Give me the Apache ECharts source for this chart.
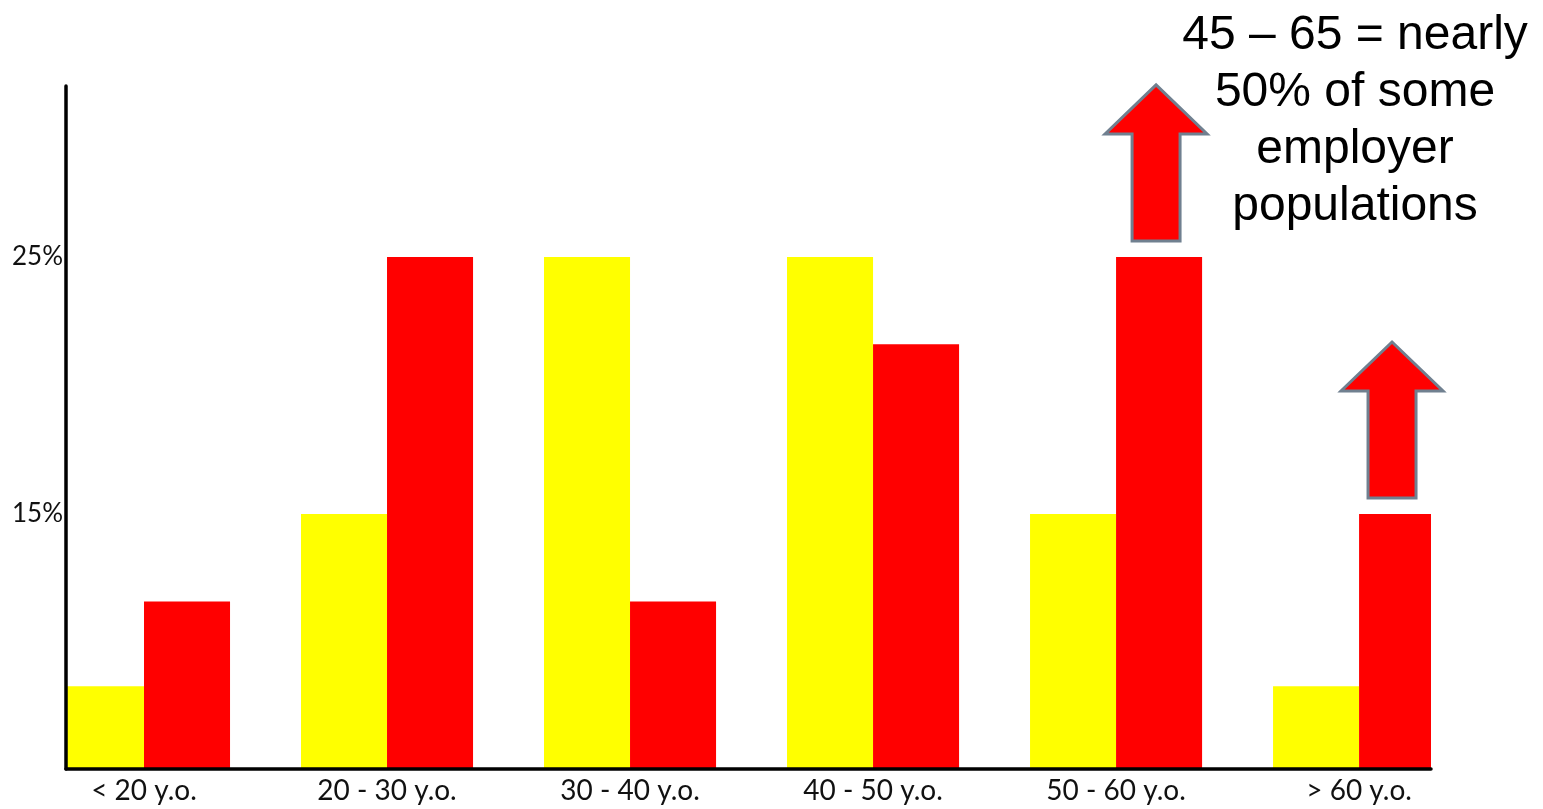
<!DOCTYPE html>
<html><head><meta charset="utf-8">
<script src="https://cdn.jsdelivr.net/npm/echarts@6/dist/echarts.min.js"></script>
<style>html,body{margin:0;padding:0;background:#fff}#c{width:1543px;height:809px}</style>
</head><body><div id="c"></div>
<script>
const categories = ['< 20 y.o.', '20 - 30 y.o.', '30 - 40 y.o.', '40 - 50 y.o.', '50 - 60 y.o.', '> 60 y.o.'];
const yellowValues = [8.3, 15, 25, 25, 15, 8.3];
const redValues = [11.6, 25, 11.6, 21.6, 25, 15];
const yTickLabels = [15, 25];
const arrowCategories = [4, 5];
const noteLines = ['45 – 65 = nearly', '50% of some', 'employer', 'populations'];

const chart = echarts.init(document.getElementById('c'), null, {renderer: 'canvas'});
const catIdx = categories.map((_, i) => i);
const GRID_LEFT = 66, GRID_RIGHT = 112;
const Y_MIN = 5.08, Y_MAX = 31.65;
const BAR_FRAC = (1 - 0.292) / 2; // each bar's share of one category band

function makeRenderItem(side) { // side: -1 left bar, 0 right bar
  return function (params, api) {
    const i = api.value(0), v = api.value(1);
    const top = api.coord([i, v]);
    const base = api.coord([i, Y_MIN]);
    const band = api.size([1, 0])[0];
    const w = band * BAR_FRAC;
    const x = top[0] + side * w;
    const shape = echarts.graphic.clipRectByRect(
      {x: x, y: top[1], width: w, height: base[1] - top[1]},
      {x: params.coordSys.x, y: params.coordSys.y, width: params.coordSys.width, height: params.coordSys.height});
    if (!shape) return null;
    return {type: 'rect', shape: shape, style: api.style()};
  };
}

const option = {
  animation: false,
  backgroundColor: '#fff',
  grid: {left: GRID_LEFT, right: GRID_RIGHT, top: 86, bottom: 40, containLabel: false, outerBoundsMode: 'none'},
  xAxis: {
    type: 'value', min: -0.321, max: 5.296, z: 10,
    axisLine: {show: true, onZero: false, lineStyle: {color: '#000', width: 3.5}},
    axisTick: {show: false}, splitLine: {show: false},
    axisLabel: {customValues: catIdx, formatter: v => categories[Math.round(v)] || '',
      fontFamily: 'Lato', fontSize: 28, color: '#111', margin: 8}
  },
  yAxis: {
    type: 'value', min: Y_MIN, max: Y_MAX, z: 10,
    axisLine: {show: true, onZero: false, lineStyle: {color: '#000', width: 3.5}},
    axisTick: {show: false}, splitLine: {show: false},
    axisLabel: {customValues: yTickLabels, formatter: v => v + '%',
      fontFamily: 'Lato', fontSize: 26, color: '#111', margin: 3}
  },
  series: [
    {type: 'custom', name: 'A', renderItem: makeRenderItem(-1), data: yellowValues.map((v, i) => [i, v]),
      itemStyle: {color: '#FFFF00'}, encode: {x: 0, y: 1}, clip: true, z: 2},
    {type: 'custom', name: 'B', renderItem: makeRenderItem(0), data: redValues.map((v, i) => [i, v]),
      itemStyle: {color: '#FF0000'}, encode: {x: 0, y: 1}, clip: true, z: 2}
  ]
};
chart.setOption(option);

function arrowPoints(cx, tipY) {
  return [[cx, tipY], [cx + 51, tipY + 49], [cx + 24, tipY + 49], [cx + 24, tipY + 156],
          [cx - 24, tipY + 156], [cx - 24, tipY + 49], [cx - 51, tipY + 49]];
}
const gridRightPx = chart.getWidth() - GRID_RIGHT;
const graphics = arrowCategories.map(i => {
  const p0 = chart.convertToPixel({xAxisIndex: 0, yAxisIndex: 0}, [i, redValues[i]]);
  const p1 = chart.convertToPixel({xAxisIndex: 0, yAxisIndex: 0}, [i + 1, redValues[i]]);
  const w = (p1[0] - p0[0]) * BAR_FRAC;
  const left = Math.max(p0[0], GRID_LEFT);
  const right = Math.min(p0[0] + w, gridRightPx);
  const cx = (left + right) / 2 - 3;
  return {type: 'polygon', shape: {points: arrowPoints(cx, p0[1] - 172)},
    style: {fill: '#FF0000', stroke: '#708090', lineWidth: 3, lineJoin: 'miter'}, z: 100};
});
graphics.push({type: 'text', x: 1355, y: 7, z: 100,
  style: {text: noteLines.join('\n'), fontFamily: 'Liberation Sans', fontSize: 48, fill: '#000',
    align: 'center', textAlign: 'center', verticalAlign: 'top', textVerticalAlign: 'top', lineHeight: 57}});
chart.setOption({graphic: graphics});
</script></body></html>
